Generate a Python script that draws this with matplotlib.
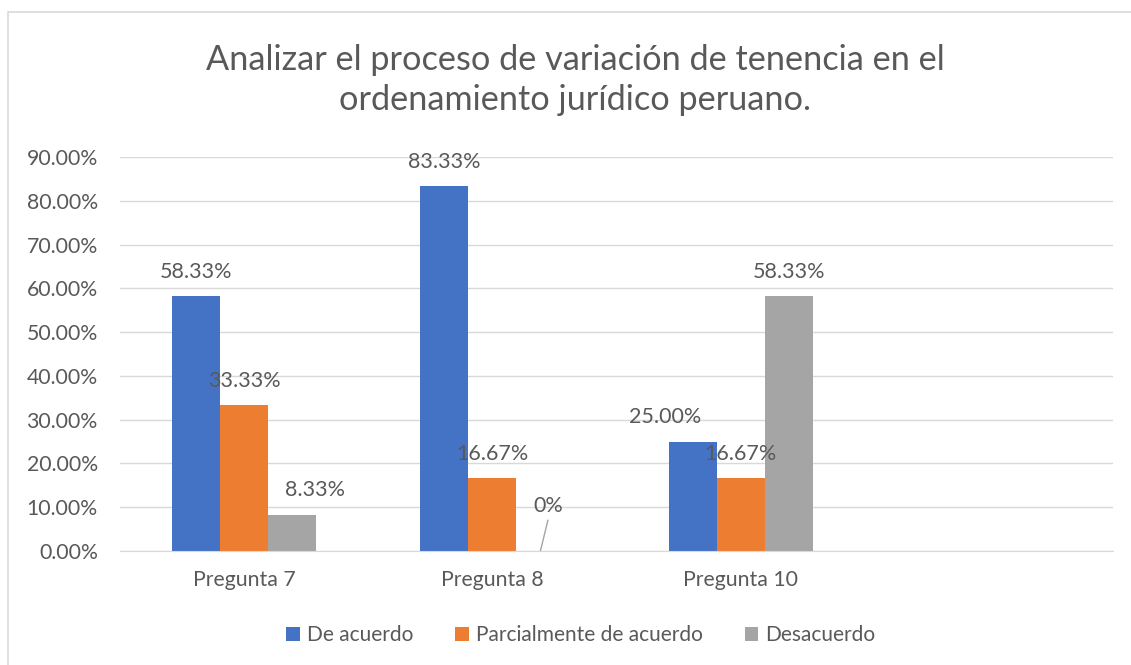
import numpy as np
import matplotlib.pyplot as plt
from matplotlib.patches import Rectangle

# data (4th category slot is empty in the original)
categories = ['Pregunta 7', 'Pregunta 8', 'Pregunta 10', '']
series_names = ['De acuerdo', 'Parcialmente de acuerdo', 'Desacuerdo']
de_acuerdo = [0.5833, 0.8333, 0.25, np.nan]
parcial = [0.3333, 0.1667, 0.1667, np.nan]
desacuerdo = [0.0833, 0.0, 0.5833, np.nan]
label_text = [['58.33%', '83.33%', '25.00%'],
              ['33.33%', '16.67%', '16.67%'],
              ['8.33%', '0%', '58.33%']]

colors = ['#4472C4', '#ED7D31', '#A5A5A5']
txt = '#595959'
plt.rcParams['font.family'] = ['Lato', 'DejaVu Sans']

fig = plt.figure(figsize=(11.31, 6.65), dpi=100)
fig.patches.append(Rectangle((8 / 1131, -0.1), 1.2, 1 - 12 / 665 + 0.1,
                             transform=fig.transFigure, fill=False,
                             edgecolor='#d9d9d9', linewidth=1.2))
ax = fig.add_axes([120 / 1131, 1 - 551 / 665, (1113 - 120) / 1131, (551 - 157) / 665])

x = np.arange(len(categories))
w = 48 / 248
series = [de_acuerdo, parcial, desacuerdo]
for i, vals in enumerate(series):
    ax.bar(x + (i - 1) * w, vals, width=w, color=colors[i], label=series_names[i], zorder=2)

# data labels (some nudged as in the original)
nudge_x = [[0, 0, -0.11], [0, 0, 0], [0.09, 0.03, 0]]
nudge_y = [[0, 0, 0], [0, 0, 0], [0, 0.048, 0]]
for i, vals in enumerate(series):
    for j in range(3):
        xp = x[j] + (i - 1) * w + nudge_x[i][j]
        yp = vals[j] + 0.055 + nudge_y[i][j]
        ax.text(xp, yp, label_text[i][j], ha='center', va='center',
                fontsize=15.5, color=txt, zorder=3)
# leader line for the 0% label
ax.plot([x[1] + w + 0.03, x[1] + w], [0.07, 0.0], color='#a5a5a5', lw=1, zorder=3)

ax.set_xlim(-0.5, 3.5)
ax.set_ylim(0, 0.9)
ax.set_yticks(np.arange(0, 0.91, 0.1))
ax.set_yticklabels(['{:.2f}%'.format(v * 100) for v in np.arange(0, 0.91, 0.1)])
ax.set_xticks(x)
ax.set_xticklabels(categories)
ax.tick_params(axis='both', length=0, labelsize=15.3, labelcolor=txt)
ax.tick_params(axis='y', pad=16)
ax.tick_params(axis='x', pad=14)
ax.grid(axis='y', color='#d9d9d9', lw=1, zorder=0)
for s in ['top', 'right', 'left']:
    ax.spines[s].set_visible(False)
ax.spines['bottom'].set_color('#d9d9d9')

fig.text(575 / 1131, 1 - 80 / 665,
         'Analizar el proceso de variación de tenencia en el\nordenamiento jurídico peruano.',
         ha='center', va='center', fontsize=24.7, color=txt, linespacing=1.3)

fig.legend(loc='center', bbox_to_anchor=(581 / 1131, 1 - 635 / 665), ncol=3,
           frameon=False, fontsize=15, labelcolor=txt, handlelength=0.65,
           handleheight=0.65, handletextpad=0.35, columnspacing=2.0)

fig.savefig('out.png', dpi=100)
